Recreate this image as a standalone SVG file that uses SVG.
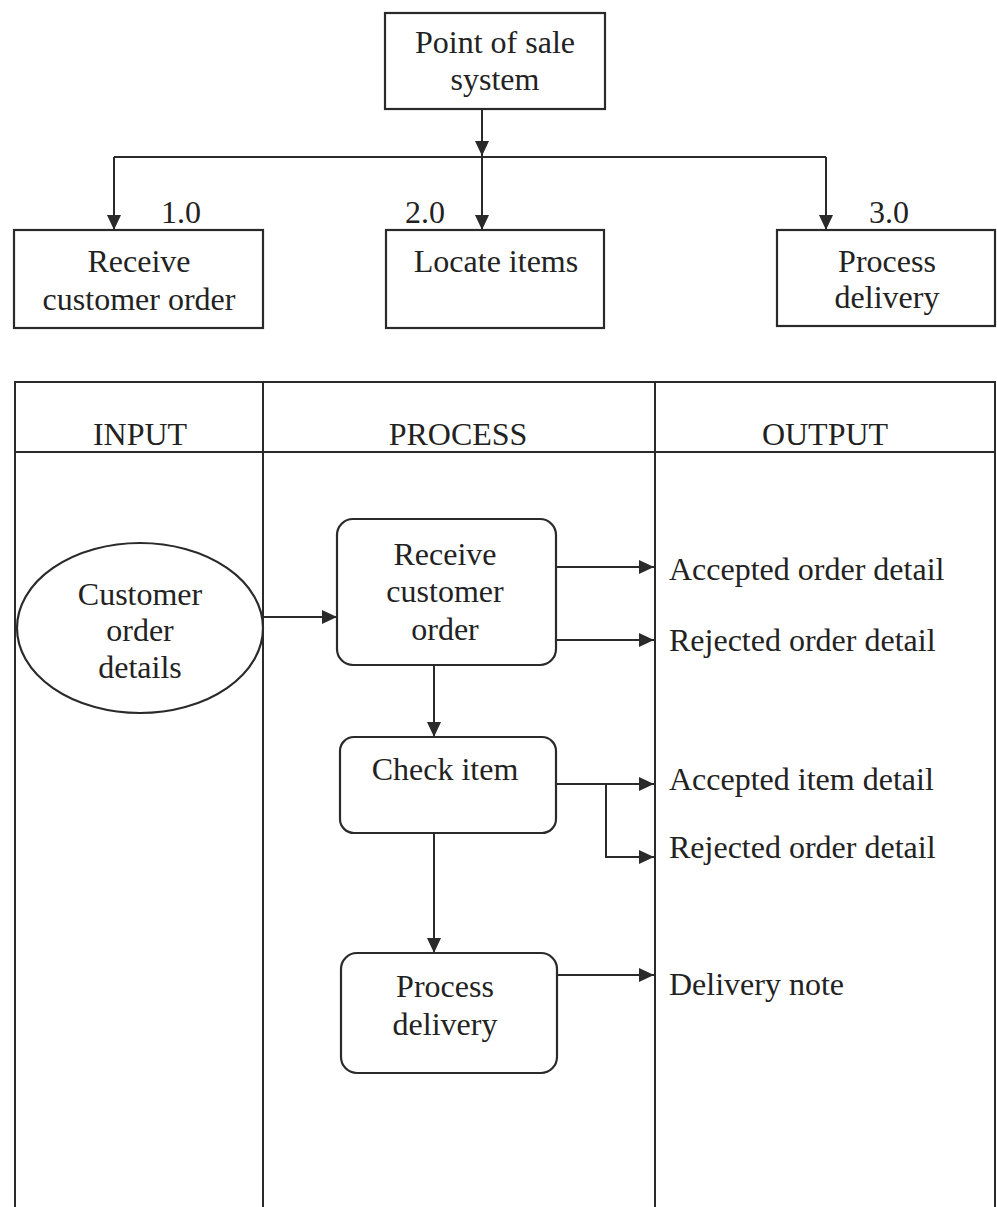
<svg xmlns="http://www.w3.org/2000/svg" width="997" height="1207" viewBox="0 0 997 1207">
<style>
.box{fill:none;stroke:#2a2a2a;stroke-width:2.2}
.ln{fill:none;stroke:#2a2a2a;stroke-width:2}
.t{font-family:"Liberation Serif","Times New Roman",serif;font-size:32px;fill:#222;text-anchor:middle}
.tl{font-family:"Liberation Serif","Times New Roman",serif;font-size:32px;fill:#222;text-anchor:start}
</style>
<defs>
<marker id="ah" markerUnits="userSpaceOnUse" markerWidth="16" markerHeight="14" refX="15" refY="7" orient="auto">
<path d="M0,0 L15,7 L0,14 Z" fill="#2a2a2a"/>
</marker>
</defs>
<rect width="997" height="1207" fill="#fff"/>

<g id="pos">
<rect class="box" x="385" y="13" width="220" height="96"/>
<text class="t" x="495" y="53">Point of sale</text>
<text class="t" x="495" y="90">system</text>
</g>
<g id="n1">
<rect class="box" x="14" y="230" width="249" height="98"/>
<text class="t" x="181" y="223">1.0</text>
<text class="t" x="139" y="272">Receive</text>
<text class="t" x="139" y="310">customer order</text>
</g>
<g id="n2">
<rect class="box" x="386" y="230" width="218" height="98"/>
<text class="t" x="425" y="223">2.0</text>
<text class="t" x="496" y="272">Locate items</text>
</g>
<g id="n3">
<rect class="box" x="777" y="230" width="218" height="96"/>
<text class="t" x="889" y="223">3.0</text>
<text class="t" x="887" y="272">Process</text>
<text class="t" x="887" y="308">delivery</text>
</g>

<g id="table">
<path class="ln" d="M15 1207 V382 H995 V1207 M15 452 H995 M263 382 V1207 M655 382 V1207"/>
<text class="t" x="140" y="445">INPUT</text>
<text class="t" x="458" y="445">PROCESS</text>
<text class="t" x="825" y="445">OUTPUT</text>
</g>

<g id="input">
<ellipse class="box" cx="140" cy="628" rx="123" ry="85"/>
<text class="t" x="140" y="605">Customer</text>
<text class="t" x="140" y="641">order</text>
<text class="t" x="140" y="678">details</text>
</g>
<g id="p1">
<rect class="box" x="337" y="519" width="219" height="146" rx="16"/>
<text class="t" x="445" y="565">Receive</text>
<text class="t" x="445" y="602">customer</text>
<text class="t" x="445" y="640">order</text>
</g>
<g id="p2">
<rect class="box" x="340" y="737" width="216" height="96" rx="14"/>
<text class="t" x="445" y="780">Check item</text>
</g>
<g id="p3">
<rect class="box" x="341" y="953" width="216" height="120" rx="16"/>
<text class="t" x="445" y="997">Process</text>
<text class="t" x="445" y="1035">delivery</text>
</g>

<g id="outputs">
<text class="tl" x="669" y="580">Accepted order detail</text>
<text class="tl" x="669" y="651">Rejected order detail</text>
<text class="tl" x="669" y="790">Accepted item detail</text>
<text class="tl" x="669" y="858">Rejected order detail</text>
<text class="tl" x="669" y="995">Delivery note</text>
</g>

<g id="connectors">
<path class="ln" d="M482 109 V156" marker-end="url(#ah)"/>
<path class="ln" d="M114 157 H826"/>
<path class="ln" d="M114 157 V230" marker-end="url(#ah)"/>
<path class="ln" d="M482 157 V230" marker-end="url(#ah)"/>
<path class="ln" d="M826 157 V230" marker-end="url(#ah)"/>
<path class="ln" d="M263 617 H337" marker-end="url(#ah)"/>
<path class="ln" d="M556 567 H654" marker-end="url(#ah)"/>
<path class="ln" d="M556 640 H654" marker-end="url(#ah)"/>
<path class="ln" d="M434 665 V737" marker-end="url(#ah)"/>
<path class="ln" d="M556 784 H654" marker-end="url(#ah)"/>
<path class="ln" d="M606 784 V857 H654" marker-end="url(#ah)"/>
<path class="ln" d="M434 833 V953" marker-end="url(#ah)"/>
<path class="ln" d="M557 975 H654" marker-end="url(#ah)"/>
</g>
</svg>
